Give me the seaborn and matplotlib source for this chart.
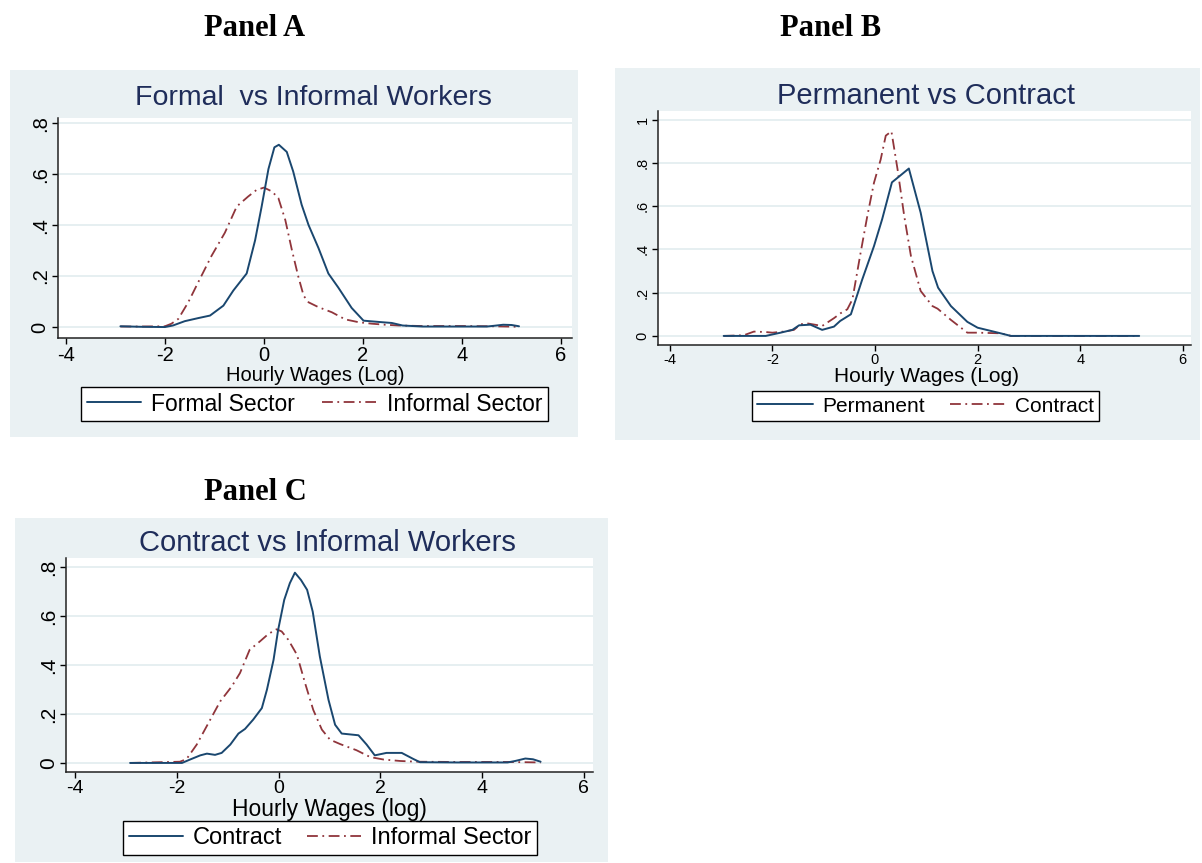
import numpy as np
import pandas as pd
import seaborn as sns
import matplotlib.pyplot as plt
from matplotlib.patches import Rectangle
from matplotlib.lines import Line2D

# Panel A: formal vs informal (kernel densities)
a_formal_x = [-2.9, -2.5, -2.0, -1.84, -1.6, -1.33, -1.09, -0.82, -0.62, -0.35, -0.18, -0.05,
              0.09, 0.21, 0.3, 0.46, 0.59, 0.76, 0.9, 1.1, 1.3, 1.5, 1.77, 2.01, 2.38, 2.58,
              2.8, 3.2, 4.0, 4.5, 4.65, 4.83, 5.0, 5.15]
a_formal_y = [0.003, 0.001, 0.0, 0.006, 0.023, 0.035, 0.045, 0.084, 0.143, 0.21, 0.34, 0.47,
              0.62, 0.705, 0.715, 0.687, 0.61, 0.48, 0.40, 0.31, 0.21, 0.155, 0.075, 0.025, 0.019, 0.016,
              0.006, 0.002, 0.002, 0.002, 0.005, 0.009, 0.008, 0.003]
a_informal_x = [-2.9, -2.5, -2.0, -1.87, -1.73, -1.53, -1.33, -1.06, -0.79, -0.55, -0.32, -0.15,
                0.0, 0.16, 0.29, 0.43, 0.56, 0.69, 0.8, 0.9, 1.1, 1.37, 1.64, 1.91, 2.18, 2.45,
                2.72, 3.2, 4.0, 4.6, 5.15]
a_informal_y = [0.002, 0.002, 0.003, 0.013, 0.032, 0.097, 0.175, 0.279, 0.37, 0.473, 0.512, 0.538,
                0.547, 0.532, 0.506, 0.42, 0.305, 0.2, 0.123, 0.097, 0.078, 0.058, 0.03, 0.019, 0.013, 0.009,
                0.006, 0.004, 0.004, 0.003, 0.001]

# Panel B: permanent vs contract
b_perm_x = [-2.95, -2.13, -1.84, -1.61, -1.48, -1.26, -1.03, -0.8, -0.68, -0.47, -0.25, -0.02,
            0.14, 0.33, 0.66, 0.89, 1.12, 1.23, 1.48, 1.8, 2.0, 2.26, 2.45, 2.65, 3.5, 4.5, 5.15]
b_perm_y = [0.0, 0.0, 0.015, 0.028, 0.049, 0.052, 0.028, 0.043, 0.069, 0.1, 0.26, 0.415,
            0.54, 0.71, 0.774, 0.57, 0.3, 0.223, 0.138, 0.065, 0.038, 0.023, 0.012, 0.0, 0.0, 0.0, 0.0]
b_contract_x = [-2.95, -2.56, -2.36, -2.13, -2.0, -1.78, -1.58, -1.45, -1.32, -1.03, -0.8, -0.67,
                -0.54, -0.44, -0.28, -0.15, -0.02, 0.11, 0.21, 0.32, 0.44, 0.57, 0.7, 0.89, 1.12,
                1.22, 1.48, 1.8, 2.0, 2.45, 2.65, 3.5, 4.5, 5.15]
b_contract_y = [0.0, 0.003, 0.02, 0.018, 0.015, 0.02, 0.028, 0.054, 0.058, 0.046, 0.082, 0.105,
                0.123, 0.169, 0.385, 0.554, 0.708, 0.815, 0.926, 0.946, 0.77, 0.554, 0.37, 0.208, 0.138,
                0.126, 0.074, 0.015, 0.015, 0.012, 0.0, 0.0, 0.0, 0.0]

# Panel C: contract vs informal
c_contract_x = [-2.92, -1.9, -1.74, -1.54, -1.41, -1.25, -1.12, -0.95, -0.79, -0.66, -0.5, -0.33,
                -0.23, -0.1, -0.01, 0.11, 0.22, 0.32, 0.44, 0.56, 0.67, 0.81, 0.98, 1.11, 1.24,
                1.57, 1.73, 1.89, 2.12, 2.42, 2.65, 2.78, 3.5, 4.5, 4.65, 4.85, 5.0, 5.15]
c_contract_y = [0.0, 0.0, 0.014, 0.031, 0.038, 0.033, 0.041, 0.075, 0.12, 0.139, 0.177, 0.224,
                0.299, 0.421, 0.543, 0.666, 0.734, 0.777, 0.747, 0.707, 0.618, 0.435, 0.258, 0.156, 0.12,
                0.113, 0.075, 0.031, 0.041, 0.041, 0.016, 0.003, 0.002, 0.002, 0.008, 0.018, 0.015, 0.005]
c_informal_x = [-2.92, -1.94, -1.81, -1.61, -1.38, -1.15, -0.92, -0.76, -0.57, -0.37, -0.2, -0.04,
                0.06, 0.19, 0.36, 0.52, 0.68, 0.85, 1.01, 1.21, 1.53, 1.8, 2.06, 2.39, 2.72, 3.5,
                4.5, 5.15]
c_informal_y = [0.0, 0.005, 0.016, 0.075, 0.163, 0.251, 0.313, 0.367, 0.462, 0.496, 0.527, 0.546,
                0.537, 0.503, 0.442, 0.326, 0.217, 0.136, 0.095, 0.077, 0.052, 0.024, 0.014, 0.008, 0.005, 0.004,
                0.004, 0.002]

x_ticks = [-4, -2, 0, 2, 4, 6]
y_ticks_ac = [0, 0.2, 0.4, 0.6, 0.8]
y_labels_ac = ['0', '.2', '.4', '.6', '.8']
y_ticks_b = [0, 0.2, 0.4, 0.6, 0.8, 1.0]
y_labels_b = ['0', '.2', '.4', '.6', '.8', '1']

sns.set_theme(style="white")
plt.rcParams['font.family'] = ['Liberation Sans', 'DejaVu Sans']
plt.rcParams['text.color'] = 'black'
plt.rcParams['xtick.color'] = 'black'
plt.rcParams['ytick.color'] = 'black'

W, H = 1202, 863
BG = '#eaf1f3'
NAVY = '#1a476f'
MAROON = '#90353b'
TITLE_C = '#1f2d5a'
DASHDOT = (0, (6, 2.5, 1, 2.5))

fig = plt.figure(figsize=(W / 100, H / 100), dpi=100)
fig.patch.set_facecolor('white')


def px_box(x0, y0, x1, y1):
    # pixel box (top-left origin) -> figure fraction rect
    return [x0 / W, 1 - y1 / H, (x1 - x0) / W, (y1 - y0) / H]


def add_bg(x0, y0, x1, y1):
    l, b, w, h = px_box(x0, y0, x1, y1)
    fig.patches.append(Rectangle((l, b), w, h, transform=fig.transFigure,
                                 facecolor=BG, edgecolor='none', zorder=-10))


def panel(box, xlim, ylim, yticks, ylabels, s1, s2, labels, title, title_xy, xlabel, xlabel_xy,
          fs_title, fs_tick_x, fs_tick_y, fs_xlab, fs_leg, leg_xy, leg_opts):
    ax = fig.add_axes(px_box(*box))
    ax.set_zorder(2)
    ax.set_facecolor('white')
    df1 = pd.DataFrame({'x': s1[0], 'y': s1[1]})
    df2 = pd.DataFrame({'x': s2[0], 'y': s2[1]})
    for yt in yticks:
        ax.axhline(yt, color='#e4eef0', lw=1.3, zorder=1)
    sns.lineplot(data=df1, x='x', y='y', ax=ax, color=NAVY, lw=1.4, estimator=None, sort=False, zorder=3)
    sns.lineplot(data=df2, x='x', y='y', ax=ax, color=MAROON, lw=1.3, estimator=None, sort=False,
                 linestyle=DASHDOT, zorder=2)
    ax.set_xlim(*xlim)
    ax.set_ylim(*ylim)
    ax.set_xticks(x_ticks)
    ax.set_xticklabels([str(t) for t in x_ticks], fontsize=fs_tick_x)
    ax.set_yticks(yticks)
    ax.set_yticklabels(ylabels, fontsize=fs_tick_y, rotation=90, va='center')
    ax.tick_params(axis='both', direction='out', length=4, width=1, color='black',
                   bottom=True, left=True, pad=2)
    ax.set_xlabel('')
    ax.set_ylabel('')
    for s in ['top', 'right']:
        ax.spines[s].set_visible(False)
    for s in ['left', 'bottom']:
        ax.spines[s].set_color('#222222')
        ax.spines[s].set_linewidth(1.1)
    fig.text(title_xy[0] / W, 1 - title_xy[1] / H, title, ha='center', va='center',
             fontsize=fs_title, color=TITLE_C)
    fig.text(xlabel_xy[0] / W, 1 - xlabel_xy[1] / H, xlabel, ha='center', va='center',
             fontsize=fs_xlab, color='black')
    handles = [Line2D([], [], color=NAVY, lw=1.4),
               Line2D([], [], color=MAROON, lw=1.3, linestyle=DASHDOT)]
    leg = fig.legend(handles, labels, loc='center', bbox_to_anchor=(leg_xy[0] / W, 1 - leg_xy[1] / H),
                     ncol=2, fontsize=fs_leg, frameon=True, fancybox=False, framealpha=1,
                     edgecolor='black', facecolor='white', borderpad=0.25, borderaxespad=0,
                     **leg_opts)
    leg.get_frame().set_linewidth(1.0)
    return ax


add_bg(10, 70, 578, 437)
add_bg(615, 68, 1200, 440)
add_bg(15, 518, 608, 862)

panel((58, 118, 572, 338), (-4.16, 6.22), (-0.043, 0.82), y_ticks_ac, y_labels_ac,
      (a_formal_x, a_formal_y), (a_informal_x, a_informal_y), ['Formal Sector', 'Informal Sector'],
      'Formal  vs Informal Workers', (313, 98), 'Hourly Wages (Log)', (315, 375),
      20.5, 14.5, 14.5, 14.5, 16.5, (314.5, 404),
      dict(handlelength=2.35, handletextpad=0.45, columnspacing=1.2))

panel((658, 111, 1191, 345), (-4.23, 6.16), (-0.042, 1.04), y_ticks_b, y_labels_b,
      (b_perm_x, b_perm_y), (b_contract_x, b_contract_y), ['Permanent', 'Contract'],
      'Permanent vs Contract', (926, 96), 'Hourly Wages (Log)', (926, 377),
      21, 10.5, 10.5, 15, 15, (925.5, 406),
      dict(handlelength=2.7, handletextpad=0.43, columnspacing=1.2))

panel((66, 558, 593, 772), (-4.18, 6.18), (-0.037, 0.837), y_ticks_ac, y_labels_ac,
      (c_contract_x, c_contract_y), (c_informal_x, c_informal_y), ['Contract', 'Informal Sector'],
      'Contract vs Informal Workers', (327, 543), 'Hourly Wages (log)', (329, 809),
      21, 14, 15, 16.5, 17, (330, 838),
      dict(handlelength=2.3, handletextpad=0.42, columnspacing=1.05))

serif = ['Liberation Serif', 'DejaVu Serif']
for txt, hx, hy in [('Panel A', 255, 28), ('Panel B', 831, 28), ('Panel C', 255, 492)]:
    fig.text(hx / W, 1 - hy / H, txt, ha='center', va='center', fontsize=22,
             fontweight='bold', family=serif, color='black')

fig.savefig('out.png', dpi=100, facecolor='white')
